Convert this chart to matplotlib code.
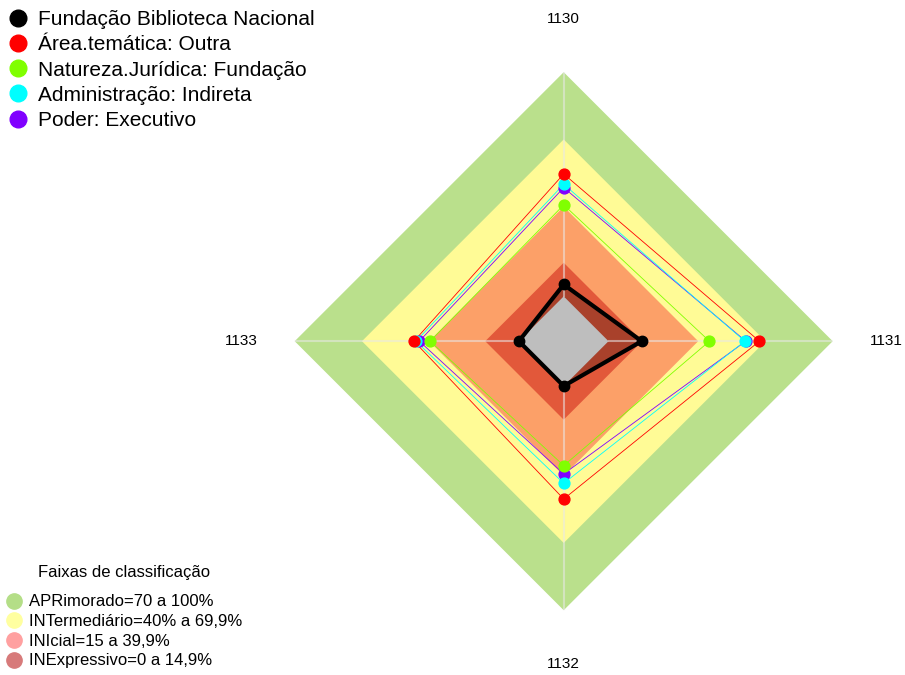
import numpy as np
import matplotlib
matplotlib.use("Agg")
import matplotlib.pyplot as plt
from matplotlib.lines import Line2D

plt.rcParams['font.family'] = ['Liberation Sans', 'DejaVu Sans']

# ---- data ----
axes_labels = ["1130", "1131", "1132", "1133"]
series_names = ["Fundação Biblioteca Nacional", "Área.temática: Outra",
                "Natureza.Jurídica: Fundação", "Administração: Indireta",
                "Poder: Executivo"]
fundacao = [5.3, 14.8, 0, 0]
area_outra = [54.6, 67.3, 50.4, 46.8]
natureza_fundacao = [40.8, 45.0, 35.5, 39.6]
admin_indireta = [50.0, 60.8, 43.4, 45.9]
poder_executivo = [48.5, 61.2, 39.2, 44.4]
series_values = [fundacao, area_outra, natureza_fundacao, admin_indireta, poder_executivo]
series_colors = ["#000000", "#FF0000", "#80FF00", "#00FFFF", "#8000FF"]

legend_title = "Faixas de classificação"
band_labels = ["APRimorado=70 a 100%", "INTermediário=40% a 69,9%",
               "INIcial=15 a 39,9%", "INExpressivo=0 a 14,9%"]
band_upper = [100, 70, 40, 15]
band_colors = ["#bae08c", "#fffb96", "#fca068", "#e2583a"]
band_legend_colors = ["#b4de87", "#ffffa0", "#ffa0a0", "#d77a7a"]
r_min, r_max = -20, 100

# ---- figure ----
fig = plt.figure(figsize=(9.05, 6.75), dpi=100)
R = 269.0
cx, cy = 563.7, 341.2
W, H = 905.0, 675.0
ax = fig.add_axes([(cx - R) / W, (H - cy - R) / H, 2 * R / W, 2 * R / H], projection='polar')
ax.set_theta_zero_location('N')
ax.set_theta_direction(-1)
ax.set_ylim(r_min, r_max)
ax.grid(False)
ax.set_xticks([])
ax.set_yticks([])
ax.spines['polar'].set_visible(False)
ax.patch.set_visible(False)

n = len(axes_labels)
theta = np.arange(n) * 2 * np.pi / n
theta_c = np.append(theta, theta[0])

# bands
for up, col in zip(band_upper, band_colors):
    ax.fill(theta_c, [up] * (n + 1), color=col, lw=0, zorder=1)

# black data fill
vals0 = np.append(fundacao, fundacao[0])
ax.fill(theta_c, vals0, color="black", alpha=0.25, lw=0, zorder=2)

# gray centre
ax.fill(theta_c, [0] * (n + 1), color="#bebebe", lw=0, zorder=3)

# axis lines
for t in theta:
    ax.plot([t, t], [0, r_max], color="#e8e8e8", alpha=0.55, lw=1.5, zorder=4)

# series
for i in range(len(series_values) - 1, -1, -1):
    v = np.append(series_values[i], series_values[i][0])
    if i == 0:
        ax.plot(theta_c, v, color=series_colors[i], lw=3, zorder=10)
        ax.plot(theta, series_values[i], 'o', color=series_colors[i], ms=7.5, zorder=11)
    else:
        ax.plot(theta_c, v, color=series_colors[i], lw=0.6, zorder=6)
        ax.plot(theta, series_values[i], 'o', color=series_colors[i], ms=7.8, zorder=7)

# axis labels
for t, lab in zip(theta, axes_labels):
    ax.text(t, 123.8, lab, ha='center', va='center', fontsize=11, clip_on=False)

# legends
h1 = [Line2D([], [], marker='o', ls='none', ms=12, color=c) for c in series_colors]
leg1 = fig.legend(h1, series_names, loc='upper left', bbox_to_anchor=(7.6 / W, 1 - 10.0 / H),
                  frameon=False, fontsize=15, handlelength=1.0, handletextpad=0.45,
                  borderpad=0, borderaxespad=0, labelspacing=0.30)

h2 = [Line2D([], [], marker='o', ls='none', ms=11, color=c) for c in band_legend_colors]
leg2 = fig.legend(h2, band_labels, loc='lower left', bbox_to_anchor=(6.0 / W, 6.5 / H),
                  frameon=False, fontsize=12,
                  handlelength=1.0, handletextpad=0.4, borderpad=0, borderaxespad=0,
                  labelspacing=0.28)
fig.text(124.5 / W, 1 - 572 / H, legend_title, ha='center', va='center', fontsize=12)

fig.savefig("out.png", dpi=100)
